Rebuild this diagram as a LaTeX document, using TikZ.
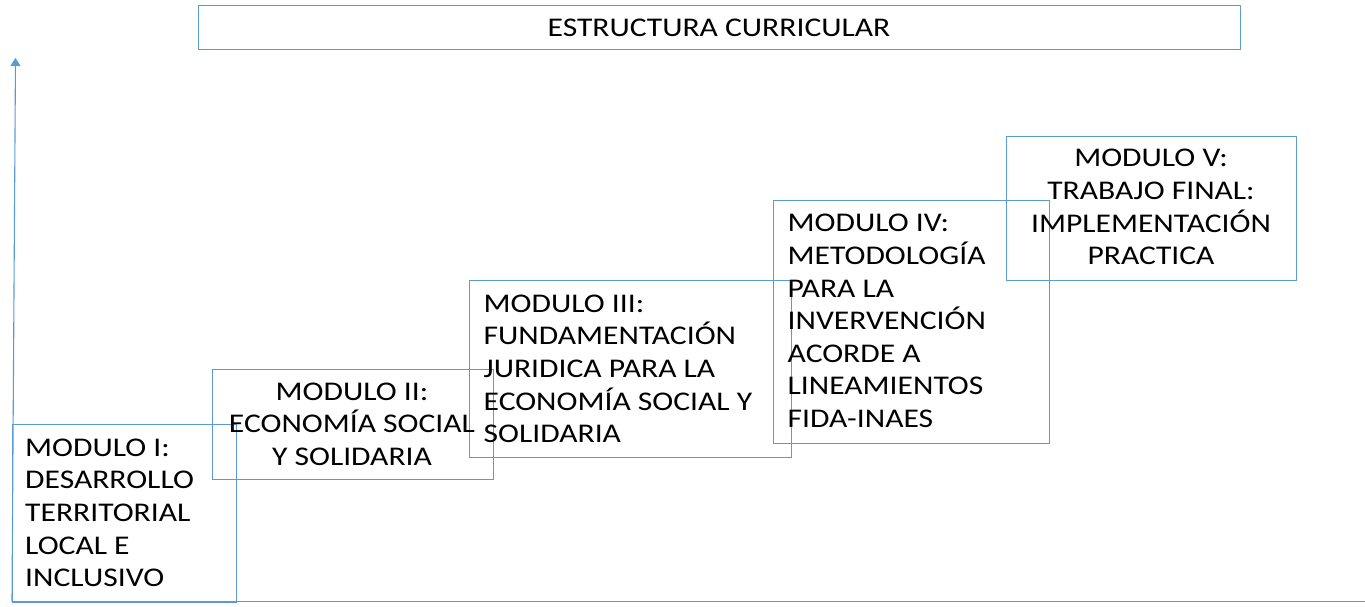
\documentclass[tikz,border=0pt]{standalone}
\usepackage{fontspec}
\setmainfont{Carlito}[FakeStretch=1.17]
\usetikzlibrary{arrows.meta}
\definecolor{lineblue}{RGB}{91,155,213}
\newcommand{\fstrut}{\rule{0pt}{24pt}}
\tikzset{
  modbox/.style={draw=lineblue, line width=1.1pt, inner sep=0pt, anchor=north west},
  modtext/.style={inner sep=0pt, text=black, font=\fontsize{27}{32.6}\selectfont},
  axisline/.style={draw=lineblue, line width=1.1pt},
}
\begin{document}
\begin{tikzpicture}[x=1pt,y=-1pt]
\useasboundingbox (0,0) rectangle (1365,606);
% title
\node[modbox, minimum width=1042pt, minimum height=44.3pt] (title) at (197.7,5) {};
\node[inner sep=0pt, anchor=base, font=\fontsize{27}{30}\selectfont] (titletext) at (719,36.7) {ESTRUCTURA CURRICULAR};
% axes
\coordinate (orig) at (12,601.5);
\coordinate (ytop) at (15.5,58);
\coordinate (xend) at (1365,601.5);
\draw[axisline, -{Triangle[width=10pt,length=8pt]}] (orig) -- (ytop);
\draw[axisline] (orig) -- (xend);
% boxes
\node[modbox, minimum width=224pt, minimum height=178pt] (b1) at (11.7,424) {};
\node[modbox, minimum width=281.6pt, minimum height=109.7pt] (b2) at (211.7,369.3) {};
\node[modbox, minimum width=322pt, minimum height=176.7pt] (b3) at (469.3,280) {};
\node[modbox, minimum width=276pt, minimum height=243pt] (b4) at (773,200) {};
\node[modbox, minimum width=290pt, minimum height=144pt] (b5) at (1006,136) {};
% texts
\node[modtext, anchor=north west, align=left] (t1) at (25,432) {\fstrut MODULO I:\\DESARROLLO\\TERRITORIAL\\LOCAL E\\INCLUSIVO};
\node[modtext, anchor=north, align=center] (t2) at (352,376) {\fstrut MODULO II:\\ECONOMÍA SOCIAL\\Y SOLIDARIA};
\node[modtext, anchor=north west, align=left] (t3) at (483.5,288) {\fstrut MODULO III:\\FUNDAMENTACIÓN\\JURIDICA PARA LA\\ECONOMÍA SOCIAL Y\\SOLIDARIA};
\node[modtext, anchor=north west, align=left] (t4) at (787.5,207.7) {\fstrut MODULO IV:\\METODOLOGÍA\\PARA LA\\INVERVENCIÓN\\ACORDE A\\LINEAMIENTOS\\FIDA-INAES};
\node[modtext, anchor=north, align=center] (t5) at (1151,142.7) {\fstrut MODULO V:\\TRABAJO FINAL:\\IMPLEMENTACIÓN\\PRACTICA};
\end{tikzpicture}
\end{document}
